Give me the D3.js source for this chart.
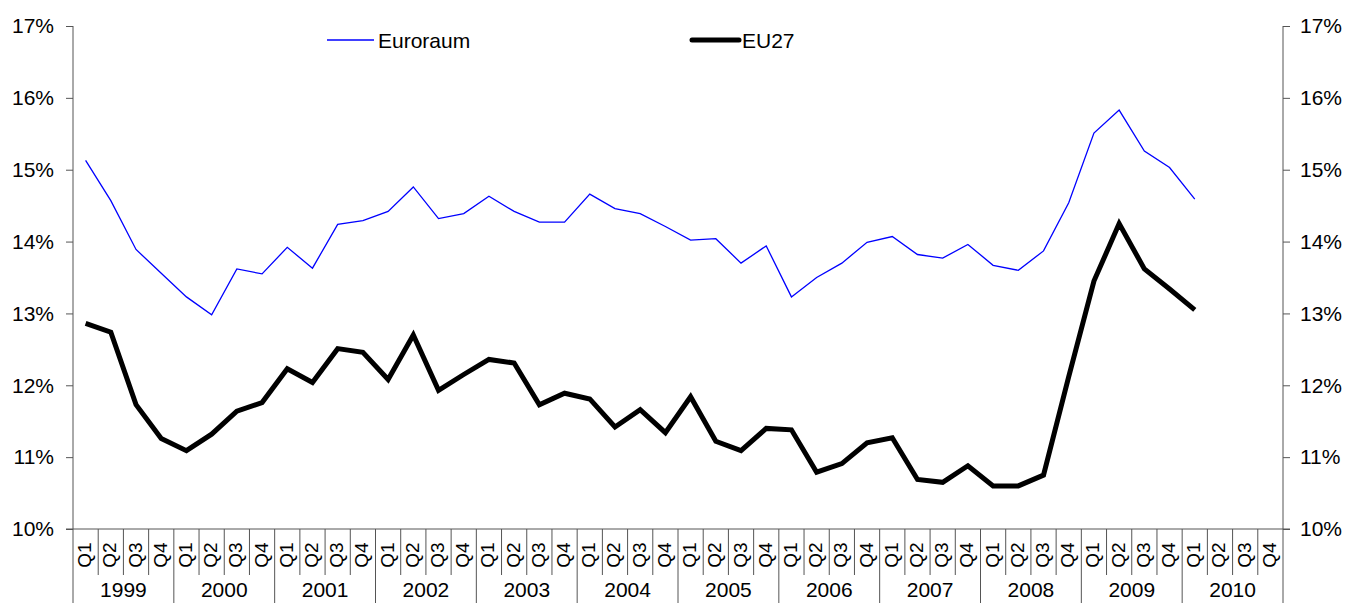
<!DOCTYPE html>
<html>
<head>
<meta charset="utf-8">
<script src="https://cdn.jsdelivr.net/npm/d3@7"></script>
<style>
  body { margin: 0; background: #fff; }
  svg { display: block; font-family: "Liberation Sans", Arial, sans-serif; }
</style>
</head>
<body>
<div id="vis"></div>
<script>
// Data
const YEARS = ["1999", "2000", "2001", "2002", "2003", "2004", "2005", "2006", "2007", "2008", "2009", "2010"];
const QUARTERS = ["Q1", "Q2", "Q3", "Q4"];
const EURORAUM = [15.13, 14.57, 13.89, 13.56, 13.23, 12.98, 13.62, 13.55, 13.92, 13.63, 14.24, 14.29,
                  14.42, 14.76, 14.32, 14.39, 14.63, 14.42, 14.27, 14.27, 14.66, 14.46, 14.39, 14.21,
                  14.02, 14.04, 13.70, 13.94, 13.23, 13.50, 13.70, 13.99, 14.07, 13.82, 13.77, 13.96,
                  13.67, 13.60, 13.87, 14.54, 15.51, 15.83, 15.26, 15.03, 14.59];
const EU27 = [12.86, 12.74, 11.73, 11.26, 11.09, 11.32, 11.64, 11.76, 12.23, 12.04, 12.51, 12.46,
              12.08, 12.70, 11.93, 12.15, 12.36, 12.31, 11.73, 11.89, 11.81, 11.42, 11.66, 11.34,
              11.84, 11.22, 11.09, 11.40, 11.38, 10.79, 10.91, 11.20, 11.27, 10.69, 10.65, 10.88,
              10.60, 10.60, 10.75, 12.12, 13.45, 14.25, 13.62, 13.34, 13.05];
const Y_TICKS = [10, 11, 12, 13, 14, 15, 16, 17];

// Frame
const FRAME_WIDTH = 1346;
const FRAME_HEIGHT = 603;
const MARGINS = {left: 73, right: 63, top: 26, bottom: 74};
const VIS_WIDTH = FRAME_WIDTH - MARGINS.left - MARGINS.right;
const VIS_HEIGHT = FRAME_HEIGHT - MARGINS.top - MARGINS.bottom;

const FRAME = d3.select("#vis")
  .append("svg")
    .attr("width", FRAME_WIDTH)
    .attr("height", FRAME_HEIGHT);

// x = every quarter of every year
const PERIODS = [];
YEARS.forEach((y) => QUARTERS.forEach((q) => PERIODS.push(y + "-" + q)));

const X_SCALE = d3.scaleBand()
  .domain(PERIODS)
  .range([MARGINS.left, MARGINS.left + VIS_WIDTH]);

const Y_SCALE = d3.scaleLinear()
  .domain([10, 17])
  .range([MARGINS.top + VIS_HEIGHT, MARGINS.top]);

const AXIS_COLOR = "#555";
const FONT_SIZE = "21px";
const Q_FONT_SIZE = "19px";

// left axis
FRAME.append("g")
  .attr("transform", "translate(" + MARGINS.left + ",0)")
  .call(d3.axisLeft(Y_SCALE).tickValues(Y_TICKS).tickSize(7).tickPadding(12)
        .tickFormat((d) => d + "%"))
  .call((g) => g.select(".domain").remove())
  .call((g) => g.selectAll("line").attr("stroke", AXIS_COLOR))
  .call((g) => g.selectAll("text").attr("font-size", FONT_SIZE)
                .attr("font-family", "Liberation Sans, Arial, sans-serif").attr("fill", "#000"));

// right axis
FRAME.append("g")
  .attr("transform", "translate(" + (MARGINS.left + VIS_WIDTH) + ",0)")
  .call(d3.axisRight(Y_SCALE).tickValues(Y_TICKS).tickSize(7).tickPadding(10)
        .tickFormat((d) => d + "%"))
  .call((g) => g.select(".domain").remove())
  .call((g) => g.selectAll("line").attr("stroke", AXIS_COLOR))
  .call((g) => g.selectAll("text").attr("font-size", FONT_SIZE)
                .attr("font-family", "Liberation Sans, Arial, sans-serif").attr("fill", "#000"));

// vertical axis lines, full height
[MARGINS.left, MARGINS.left + VIS_WIDTH].forEach((x) => {
  FRAME.append("line")
    .attr("x1", x).attr("x2", x)
    .attr("y1", MARGINS.top).attr("y2", FRAME_HEIGHT)
    .attr("stroke", AXIS_COLOR).attr("stroke-width", 1);
});

// bottom axis line
const BASE_Y = Y_SCALE(10);
FRAME.append("line")
  .attr("x1", MARGINS.left - 7).attr("x2", MARGINS.left + VIS_WIDTH + 7)
  .attr("y1", BASE_Y).attr("y2", BASE_Y)
  .attr("stroke", AXIS_COLOR).attr("stroke-width", 1);

// quarter separators and labels
const BW = X_SCALE.bandwidth();
PERIODS.forEach((p, i) => {
  const x0 = X_SCALE(p);
  if (i > 0) {
    FRAME.append("line")
      .attr("x1", x0).attr("x2", x0)
      .attr("y1", BASE_Y)
      .attr("y2", i % 4 === 0 ? FRAME_HEIGHT : BASE_Y + 46)
      .attr("stroke", AXIS_COLOR).attr("stroke-width", 1);
  }
  const cx = x0 + BW / 2;
  FRAME.append("text")
    .attr("transform", "translate(" + (cx + 5.5) + "," + (BASE_Y + 26) + ") rotate(-90)")
    .attr("text-anchor", "middle")
    .attr("font-size", Q_FONT_SIZE)
    .text(p.split("-")[1]);
});

// year labels
YEARS.forEach((y) => {
  const x0 = X_SCALE(y + "-Q1");
  FRAME.append("text")
    .attr("x", x0 + BW * 2)
    .attr("y", BASE_Y + 68)
    .attr("text-anchor", "middle")
    .attr("font-size", FONT_SIZE)
    .text(y);
});

// lines
const line = d3.line()
  .x((d, i) => X_SCALE(PERIODS[i]) + BW / 2)
  .y((d) => Y_SCALE(d));

FRAME.append("path")
  .datum(EURORAUM)
  .attr("d", line)
  .attr("fill", "none")
  .attr("stroke", "#0000ff")
  .attr("stroke-width", 1.3);

FRAME.append("path")
  .datum(EU27)
  .attr("d", line)
  .attr("fill", "none")
  .attr("stroke", "#000")
  .attr("stroke-width", 5)
  .attr("stroke-linejoin", "miter");

// legend
const LEGEND = [
  {name: "Euroraum", color: "#0000ff", width: 1.3, x: 327},
  {name: "EU27", color: "#000", width: 5, x: 692}
];
LEGEND.forEach((l) => {
  FRAME.append("line")
    .attr("x1", l.x).attr("x2", l.x + 47)
    .attr("y1", 40).attr("y2", 40)
    .attr("stroke", l.color).attr("stroke-width", l.width)
    .attr("stroke-linecap", l.width > 2 ? "round" : "butt");
  FRAME.append("text")
    .attr("x", l.x + (l.width > 2 ? 50 : 51))
    .attr("y", 47.5)
    .attr("font-size", FONT_SIZE)
    .text(l.name);
});
</script>
</body>
</html>
